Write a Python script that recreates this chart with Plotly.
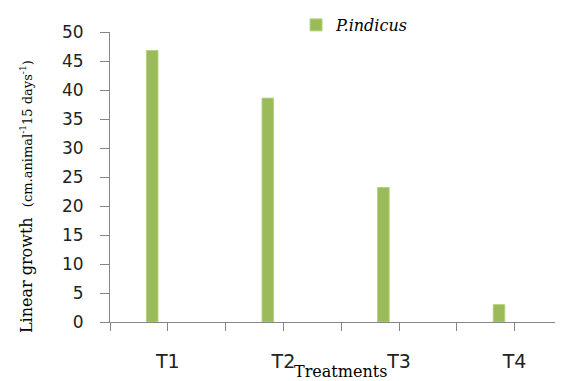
import plotly.graph_objects as go

categories = ["T1", "T2", "T3", "T4"]
p_indicus = [46.8, 38.6, 23.2, 3.0]
y_ticks = [0, 5, 10, 15, 20, 25, 30, 35, 40, 45, 50]

idx = list(range(1, len(categories) + 1))
bar_offset = -0.135

fig = go.Figure()
fig.add_trace(go.Bar(
    x=[i + bar_offset for i in idx], y=p_indicus, width=0.1,
    name="<i>P.indicus</i>",
    marker=dict(color="#9BBB59", line=dict(color="#B5D27F", width=1)),
))

tickvals = []
ticktext = []
for i, c in zip(idx, categories):
    tickvals += [i - 0.5, i]
    ticktext += ["", c]

fig.update_layout(
    width=555, height=373,
    margin=dict(l=102, r=1, t=24, b=59, autoexpand=False),
    paper_bgcolor="white", plot_bgcolor="white",
    showlegend=True,
    legend=dict(xref="container", yref="container", x=0.519, y=1.02,
                xanchor="left", yanchor="top",
                font=dict(family="DejaVu Serif", size=16, color="black"),
                itemwidth=30, bgcolor="rgba(0,0,0,0)"),
    xaxis=dict(range=[0.5, 4.41], tickvals=tickvals, ticktext=ticktext,
               showline=True, linecolor="#868686", linewidth=1,
               ticks="outside", ticklen=8, tickcolor="#868686",
               ticklabelstandoff=14,
               showgrid=False, zeroline=False,
               tickfont=dict(family="DejaVu Sans", size=19, color="#222")),
    yaxis=dict(range=[0, 50], tickvals=y_ticks,
               showline=True, linecolor="#868686", linewidth=1,
               ticks="outside", ticklen=9, tickcolor="#868686",
               ticklabelstandoff=13,
               showgrid=False, zeroline=False,
               tickfont=dict(family="DejaVu Sans", size=17, color="#222")),
    annotations=[
        dict(text="Linear growth  <span style='font-size:13px'>(cm.animal<sup>-1</sup>15 days<sup>-1</sup>)</span>",
             xref="paper", yref="paper", x=-0.186, y=0.434, textangle=-90,
             showarrow=False, xanchor="center", yanchor="middle",
             font=dict(family="DejaVu Serif", size=16, color="black")),
        dict(text="Treatments", xref="paper", yref="paper", x=0.509, y=-0.172,
             showarrow=False, xanchor="center", yanchor="middle",
             font=dict(family="DejaVu Serif", size=16, color="black")),
    ],
)

fig.write_html("out.html")
